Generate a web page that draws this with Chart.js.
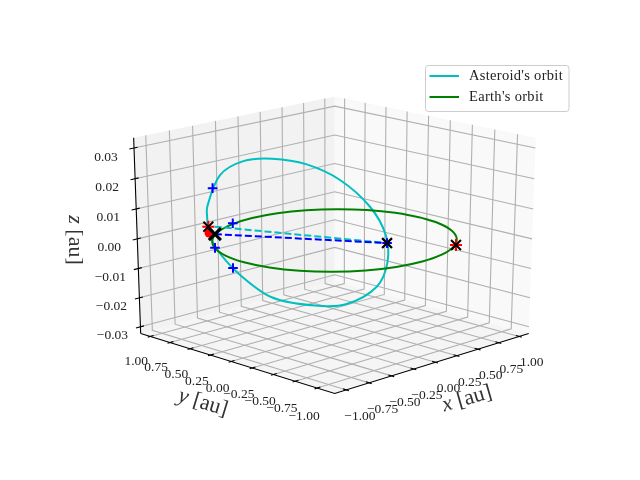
<!DOCTYPE html>
<html><head><meta charset="utf-8">
<style>html,body{margin:0;padding:0;background:#fff}canvas{display:block}</style>
<script src="https://cdn.jsdelivr.net/npm/chart.js@4/dist/chart.umd.min.js"></script>
</head><body><canvas id="c" width="640" height="480"></canvas>
<script>
const xTicks=[-1,-0.75,-0.5,-0.25,0,0.25,0.5,0.75,1];
const yTicks=[-1,-0.75,-0.5,-0.25,0,0.25,0.5,0.75,1];
const zTicks=[-0.03,-0.02,-0.01,0,0.01,0.02,0.03];
const xLim=[-1.082,1.073], yLim=[-1.151,1.076], zLim=[-0.031,0.032];
const elev=20;
const asteroidX=[-0.7264,-0.6812,-0.518,-0.3038,-0.0808,0.1474,0.308,0.3882,0.3629,0.2425,0.0738,-0.1957,-0.4202,-0.6562,-0.7775,-0.7967,-0.7734,-0.7264];
const asteroidY=[0.7085,0.7564,0.7767,0.7284,0.6241,0.4511,0.2224,-0.0495,-0.2597,-0.403,-0.4491,-0.3753,-0.2377,0.022,0.289,0.5291,0.631,0.7085];
const asteroidZ=[0.0063,0.0101,0.0193,0.0228,0.0228,0.0205,0.0157,0.0080,0.0002,-0.0070,-0.0136,-0.0178,-0.0176,-0.0149,-0.0079,-0.0012,0.0029,0.0063];
const earthX=[1.016,0.982,0.882,0.723,0.516,0.275,0.016,-0.243,-0.484,-0.691,-0.85,-0.95,-0.984,-0.95,-0.85,-0.691,-0.484,-0.243,0.016,0.275,0.516,0.723,0.882,0.982,1.016];
const earthY=[-0.016,0.243,0.484,0.691,0.85,0.95,0.984,0.95,0.85,0.691,0.484,0.243,-0.016,-0.275,-0.516,-0.723,-0.882,-0.982,-1.016,-0.982,-0.882,-0.723,-0.516,-0.275,-0.016];
const earthZ=[-0.0004,-0.0004,-0.0004,-0.0004,-0.0004,-0.0004,-0.0004,-0.0004,-0.0004,-0.0004,-0.0004,-0.0004,-0.0004,-0.0004,-0.0004,-0.0004,-0.0004,-0.0004,-0.0004,-0.0004,-0.0004,-0.0004,-0.0004,-0.0004,-0.0004];
const blueX=[-0.591,-0.242,-0.805,-0.793,0.340];
const blueY=[0.789,0.941,0.532,0.331,-0.299];
const blueZ=[0.0154,0,-0.0011,-0.0064,-0.0021];
const earthMarkX=[0.545,-0.459];
const earthMarkY=[-0.883,1.003];
const earthMarkZ=[0,0];
const sunX=[-0.776], sunY=[0.634], sunZ=[0.0029];
const nearX=[-0.685], nearY=[0.666], nearZ=[0.0016];
const farX=[0.340], farY=[-0.299], farZ=[-0.0021];
const cyanDashX=[-0.685,0.340], cyanDashY=[0.666,-0.299], cyanDashZ=[0.0041,-0.0021];
const blueDashX=[-0.685,0.340], blueDashY=[0.666,-0.299], blueDashZ=[0.0016,-0.0021];
const legendLabels=["Asteroid's orbit","Earth's orbit"];
const fmt=(v,d)=>(v<0?'\u2212':'')+Math.abs(v).toFixed(d);

const rad=elev*Math.PI/180, ce=Math.cos(rad), se=Math.sin(rad), rt2=Math.SQRT2;
const xR=xLim[1]-xLim[0], yR=yLim[1]-yLim[0], zR=zLim[1]-zLim[0];
const xLo=xLim[0]-xR/48, xHi=xLim[1]+xR/48, yLo=yLim[0]-yR/48, yHi=yLim[1]+yR/48, zLo=zLim[0]-zR/48, zHi=zLim[1]+zR/48;
function project(x,y,z){
  const X=(x-xLim[0])/xR-.5, Y=(y-yLim[0])/yR-.5, Z=(z-zLim[0])/zR-.5;
  const h=(X-Y)/rt2, t=(X+Y)/rt2, v=Z*ce+t*se, d=10+t*ce-Z*se;
  return {x:h/d,y:v/d};
}
const series=(xs,ys,zs)=>xs.map((x,i)=>project(x,ys[i],zs[i]));

const scene={id:'scene',
 beforeDatasetsDraw(ch){
  const c=ch.ctx, sx=ch.scales.x, sy=ch.scales.y;
  const P=(x,y,z)=>{const p=project(x,y,z);return [sx.getPixelForValue(p.x),sy.getPixelForValue(p.y)];};
  const poly=(pts,fill)=>{c.beginPath();pts.forEach((p,i)=>{const q=P(...p);i?c.lineTo(q[0],q[1]):c.moveTo(q[0],q[1]);});c.closePath();c.fillStyle=fill;c.fill();};
  const line=(pts,col,w)=>{c.beginPath();pts.forEach((p,i)=>{const q=P(...p);i?c.lineTo(q[0],q[1]):c.moveTo(q[0],q[1]);});c.strokeStyle=col;c.lineWidth=w;c.stroke();};
  c.save();
  poly([[xLo,yHi,zLo],[xHi,yHi,zLo],[xHi,yHi,zHi],[xLo,yHi,zHi]],'rgb(242,242,242)');
  poly([[xHi,yLo,zLo],[xHi,yHi,zLo],[xHi,yHi,zHi],[xHi,yLo,zHi]],'rgb(249,249,249)');
  poly([[xLo,yLo,zLo],[xHi,yLo,zLo],[xHi,yHi,zLo],[xLo,yHi,zLo]],'rgb(245,245,245)');
  const g='rgb(176,176,176)';
  xTicks.forEach(x=>line([[x,yLo,zLo],[x,yHi,zLo],[x,yHi,zHi]],g,1.1));
  yTicks.forEach(y=>line([[xLo,y,zLo],[xHi,y,zLo],[xHi,y,zHi]],g,1.1));
  zTicks.forEach(z=>line([[xLo,yHi,z],[xHi,yHi,z],[xHi,yLo,z]],g,1.1));
  line([[xLo,yHi,zLo],[xLo,yLo,zLo],[xHi,yLo,zLo]],'#000',1.1);
  line([[xLo,yHi,zLo],[xLo,yHi,zHi]],'#000',1.1);
  xTicks.forEach(x=>line([[x,yLo-yR*.0125,zLo],[x,yLo+yR*.0167,zLo]],'#000',1.1));
  yTicks.forEach(y=>line([[xLo-xR*.0125,y,zLo],[xLo+xR*.0167,y,zLo]],'#000',1.1));
  zTicks.forEach(z=>line([[xLo-xR*.0225,yHi,z],[xLo+xR*.0175,yHi,z]],'#000',1.1));
  c.restore();
 },
 afterDatasetsDraw(ch){
  const c=ch.ctx, sx=ch.scales.x, sy=ch.scales.y;
  const P=(x,y,z)=>{const p=project(x,y,z);return [sx.getPixelForValue(p.x),sy.getPixelForValue(p.y)];};
  const label=(s,x,y,rot,font)=>{c.save();c.translate(x,y);c.rotate(rot*Math.PI/180);c.font=font;c.fillStyle='#222';c.textAlign='center';c.textBaseline='middle';c.fillText(s,0,0);c.restore();};
  const tf='13.5px "Liberation Serif"';
  xTicks.forEach(x=>{const q=P(x,yLo,zLo);label(fmt(x,2),q[0]+12.5+(1-x)*.5,q[1]+26.5,0,tf);});
  yTicks.forEach(y=>{const q=P(xLo,y,zLo);label(fmt(y,2),q[0]-13-(y+1)*.5,q[1]+25+(1-y)*1.5,0,tf);});
  zTicks.forEach(z=>{const q=P(xLo,yHi,z);label(fmt(z,2),q[0]-28,q[1]+9,0,tf);});
  const lf='22px "Liberation Serif"';
  const ax=(parts,cx,cy,rot)=>{c.save();c.translate(cx,cy);c.rotate(rot*Math.PI/180);c.textBaseline='middle';c.fillStyle='#333';
    c.font='italic '+lf;const w0=c.measureText(parts[0]).width;c.font=lf;const w1=c.measureText(' '+parts[1]).width;
    let xx=-(w0+w1)/2;c.textAlign='left';c.font='italic '+lf;c.fillText(parts[0],xx,0);c.font=lf;c.fillText(' '+parts[1],xx+w0,0);c.restore();};
  ax(['x','[au]'],467,399,-16);
  ax(['y','[au]'],203,403,17);
  ax(['z','[au]'],75,240,90);
  c.save();
  c.beginPath();c.roundRect(425.5,65.5,143.5,46,3);c.fillStyle='rgba(255,255,255,.8)';c.fill();c.strokeStyle='#ccc';c.lineWidth=1;c.stroke();
  [['rgb(0,191,191)',76,legendLabels[0]],['rgb(0,128,0)',97,legendLabels[1]]].forEach(([col,y,s])=>{
    c.beginPath();c.moveTo(429.5,y);c.lineTo(459,y);c.strokeStyle=col;c.lineWidth=2;c.stroke();
    c.font='14.5px "Liberation Serif"';c.letterSpacing='0.3px';c.fillStyle='#222';c.textAlign='left';c.textBaseline='middle';c.fillText(s,469,y);});
  c.restore();
 }};
const lineDs=(label,data,color,extra)=>Object.assign({label,data,borderColor:color,backgroundColor:color,showLine:true,pointRadius:0,borderWidth:2,tension:.33,clip:false},extra||{});
const markDs=(label,data,style,color,r,w,fill)=>({label,data,showLine:false,pointStyle:style,pointRadius:r,pointBorderColor:color,pointBackgroundColor:fill||color,pointBorderWidth:w,clip:false});
new Chart(document.getElementById('c'),{type:'scatter',
 data:{datasets:[
  markDs('Near approach',series(nearX,nearY,nearZ),'crossRot','#000',8.5,3),
  markDs('Far marker',series(farX,farY,farZ),'crossRot','#000',7,2.2),
  markDs('Earth marker',series(earthMarkX,earthMarkY,earthMarkZ),'crossRot','#000',7,2),
  markDs('Earth position',series(earthMarkX,earthMarkY,earthMarkZ),'cross','rgb(255,0,0)',6,2),
  markDs('Asteroid position',series(blueX,blueY,blueZ),'cross','rgb(0,0,255)',4.8,2),
  markDs('Sun',series(sunX,sunY,sunZ),'circle','rgb(255,0,0)',4.5,0),
  lineDs('Blue dash',series(blueDashX,blueDashY,blueDashZ),'rgb(0,0,255)',{borderDash:[7,3],tension:0}),
  lineDs('Cyan dash',series(cyanDashX,cyanDashY,cyanDashZ),'rgb(0,191,191)',{borderDash:[7,3],tension:0}),
  lineDs(legendLabels[1],series(earthX,earthY,earthZ),'rgb(0,128,0)'),
  lineDs(legendLabels[0],series(asteroidX,asteroidY,asteroidZ),'rgb(0,191,191)')
 ]},
 options:{responsive:false,animation:false,devicePixelRatio:1,
  layout:{padding:{left:80,right:64,top:57.6,bottom:52.8}},
  plugins:{legend:{display:false},tooltip:{enabled:false}},
  scales:{x:{type:'linear',min:-0.095,max:0.09,display:false},y:{type:'linear',min:-0.095,max:0.09,display:false}}},
 plugins:[scene]});
</script></body></html>
